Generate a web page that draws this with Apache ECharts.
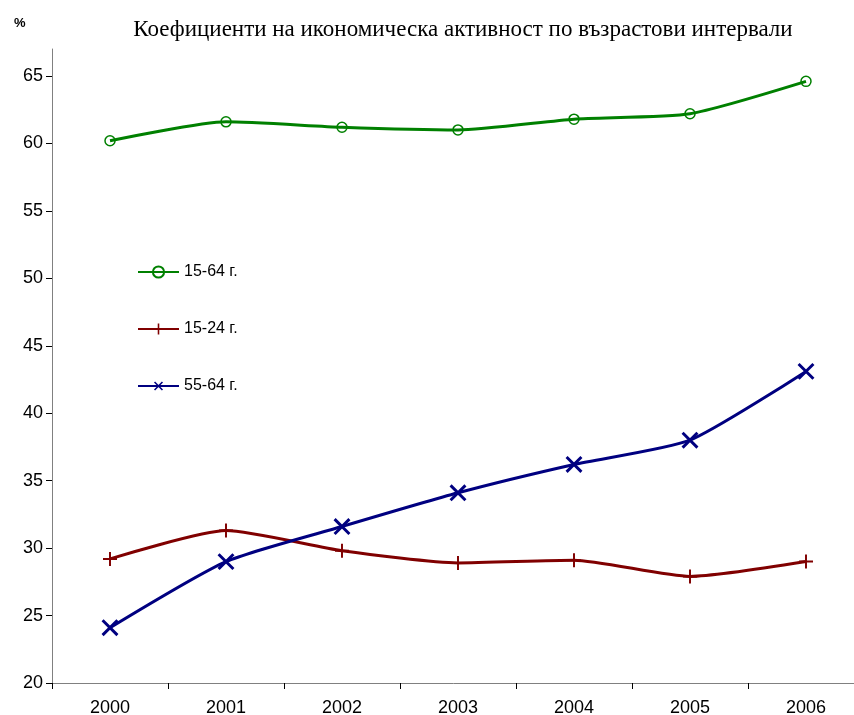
<!DOCTYPE html>
<html>
<head>
<meta charset="utf-8">
<script src="https://cdn.jsdelivr.net/npm/echarts@6/dist/echarts.min.js"></script>
<style>
  html, body { margin: 0; padding: 0; background: #fff; }
  #chart { width: 854px; height: 715px; }
</style>
</head>
<body>
<div id="chart"></div>
<script>
// години
var years = ['2000', '2001', '2002', '2003', '2004', '2005', '2006'];
// коефициенти по групи (%)
var age1564 = [60.2, 61.6, 61.2, 61.0, 61.8, 62.2, 64.6];
var age1524 = [29.2, 31.3, 29.8, 28.9, 29.1, 27.9, 29.0];
var age5564 = [24.1, 29.0, 31.6, 34.1, 36.2, 38.0, 43.1];
var yTicks = [20, 25, 30, 35, 40, 45, 50, 55, 60, 65];

var plusPath = 'path://M4.3,0h1.4v10h-1.4z M0,4.3h10v1.4h-10z';

var chart = echarts.init(document.getElementById('chart'));

var option = {
  animation: false,
  title: [
    {
      text: 'Коефициенти на икономическа активност по възрастови интервали',
      left: 458,
      top: 13,
      textAlign: 'center',
      textStyle: { fontFamily: 'Liberation Serif', fontSize: 23, fontWeight: 'normal', color: '#000' }
    },
    {
      text: '%',
      left: 9,
      top: 12,
      textStyle: { fontFamily: 'Liberation Sans', fontSize: 13, fontWeight: 'bold', color: '#000' }
    }
  ],
  legend: {
    orient: 'vertical',
    left: 132,
    top: 259,
    itemWidth: 41,
    itemHeight: 14,
    itemGap: 41,
    textStyle: { fontFamily: 'Liberation Sans', fontSize: 16, color: '#000' },
    data: ['15-64 г.', '15-24 г.', '55-64 г.']
  },
  grid: { left: 52, right: -10, top: 49, bottom: 32, outerBoundsMode: 'none' },
  xAxis: {
    type: 'category',
    data: years,
    boundaryGap: true,
    axisLine: { lineStyle: { color: '#808080', width: 1 } },
    axisTick: { show: true, length: 6, lineStyle: { color: '#000' } },
    axisLabel: { fontFamily: 'Liberation Sans', fontSize: 18, color: '#000', margin: 16 }
  },
  yAxis: {
    type: 'value',
    min: 20,
    max: 67,
    interval: 5,
    splitLine: { show: false },
    axisLine: { show: true, lineStyle: { color: '#808080', width: 1 } },
    axisTick: { show: true, length: 6, lineStyle: { color: '#000' }, customValues: yTicks },
    axisLabel: { fontFamily: 'Liberation Sans', fontSize: 18, color: '#000', margin: 9, customValues: yTicks }
  },
  series: [
    {
      name: '15-64 г.',
      type: 'line',
      data: age1564,
      smooth: 0.2,
      symbol: 'circle',
      symbolSize: 10,
      lineStyle: { color: '#008000', width: 3 },
      itemStyle: { color: 'rgba(255,255,255,0)', borderColor: '#008000', borderWidth: 1.5 }
    },
    {
      name: '15-24 г.',
      type: 'line',
      data: age1524,
      smooth: 0.2,
      symbol: plusPath,
      symbolSize: 14,
      lineStyle: { color: '#800000', width: 3 },
      itemStyle: { color: '#800000' }
    },
    {
      name: '55-64 г.',
      type: 'line',
      data: age5564,
      smooth: 0.2,
      symbol: plusPath,
      symbolSize: 21,
      symbolRotate: 45,
      lineStyle: { color: '#000080', width: 3 },
      itemStyle: { color: '#000080' }
    }
  ]
};

chart.setOption(option);
</script>
</body>
</html>
